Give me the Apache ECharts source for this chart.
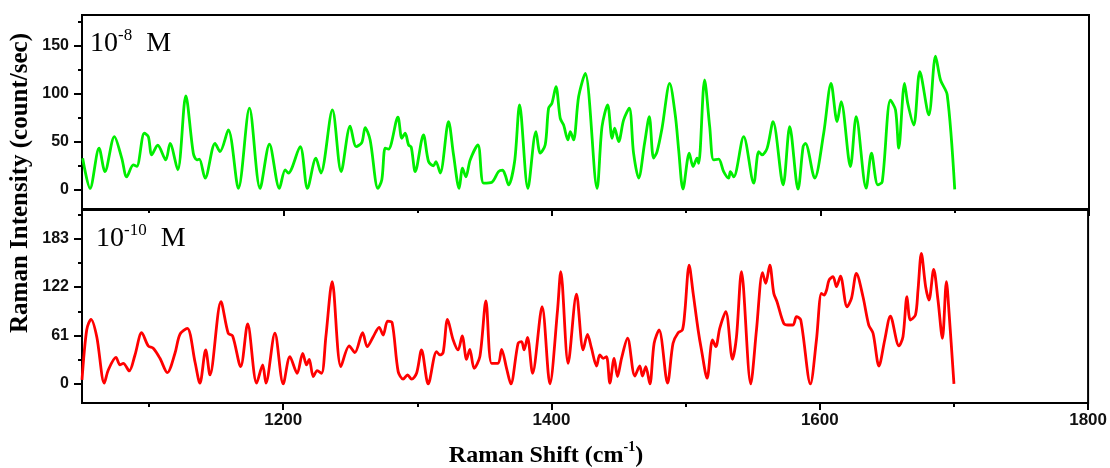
<!DOCTYPE html>
<html>
<head>
<meta charset="utf-8">
<script src="https://cdn.jsdelivr.net/npm/echarts@6/dist/echarts.min.js"></script>
<style>
html,body{margin:0;padding:0;background:#fff;}
#chart{width:1110px;height:468px;}
</style>
</head>
<body>
<div id="chart"></div>
<script>
// ---- data ----
const xMajorTicks = [1200, 1400, 1600, 1800];
const xMinorTicks = [1100, 1300, 1500, 1700];
const topMajorTicks = [0, 50, 100, 150];
const topMinorTicks = [25, 75, 125, 175];
const botMajorTicks = [0, 61, 122, 183];
const botMinorTicks = [30.5, 91.5, 152.5, 213.5];

const panelLabels = ['10', '-8', '  M', '10', '-10', '  M'];
const xAxisTitle = ['Raman Shift (cm', '-1', ')'];
const yAxisTitle = 'Raman Intensity (count/sec)';

const greenX = [1050.5,1056.0,1062.7,1067.1,1074.1,1079.6,1083.3,1088.2,1090.8,1096.4,
1099.4,1101.9,1106.4,1112.4,1115.6,1121.3,1127.3,1132.9,1135.5,1137.4,
1141.7,1149.1,1152.8,1159.0,1166.5,1174.7,1182.6,1189.6,1197.0,1201.3,
1203.7,1212.5,1217.9,1224.2,1227.9,1236.5,1243.0,1249.7,1254.2,1258.4,
1260.9,1264.6,1270.4,1273.3,1275.8,1278.3,1285.3,1288.2,1290.7,1293.2,
1295.2,1298.2,1304.3,1308.1,1311.8,1313.6,1316.8,1323.0,1326.7,1330.9,
1333.4,1335.9,1339.1,1344.9,1349.1,1355.3,1360.2,1363.2,1365.2,1367.7,
1372.2,1375.9,1382.1,1388.1,1391.3,1395.0,1397.5,1400.0,1403.0,1406.2,
1408.7,1411.9,1413.7,1416.1,1419.9,1424.8,1433.6,1437.3,1441.5,1444.8,
1446.7,1449.7,1453.4,1457.6,1460.8,1464.6,1469.0,1472.5,1475.7,1478.3,
1482.0,1487.7,1491.9,1494.4,1497.6,1502.3,1505.1,1508.1,1509.3,1513.7,
1517.5,1520.4,1524.2,1527.9,1531.6,1532.9,1535.4,1542.8,1550.3,1554.0,
1556.5,1560.3,1564.7,1572.2,1577.1,1583.3,1587.1,1588.8,1595.7,1602.4,
1607.9,1612.4,1615.4,1622.3,1626.6,1634.0,1638.0,1642.7,1646.0,1652.1,
1655.9,1658.3,1662.6,1665.0,1669.5,1674.0,1680.7,1685.7,1689.4,1694.4,
1700.0];
const greenY = [32.5,1,43,18.5,55,32.5,13,25.5,24,58.5,
55,36,46,30.7,48,20.3,97.4,37.7,30.7,31.5,
11.7,48,39.4,62,1,84.6,1,47,1,20.3,
17,44.6,1,32.5,17,82.8,18.5,66,44.6,48.8,
64.4,51.5,1,10,43,42,75.2,53.3,58.5,46.4,
44,18.5,56.8,29,24.5,29,17,70.6,36,1,
22,13,30.7,46.4,6.5,7.5,18.5,20,15,4.7,
29,88,1,60.2,37.7,46.4,84.6,89.8,107,74,
67,51.5,60.2,51.5,96.7,121,1,65.4,88,53.3,
63.7,49.8,72.4,84.6,37.7,11.7,48,75.8,32.5,39.4,
63.7,110.6,77,41,0.2,37.7,23.8,32.5,27,114,
65.4,30.7,31.5,18.5,11.7,18.5,13,55,6.5,39.4,
36,43,70.6,4.7,65.4,0.2,44.6,48,11.7,58.5,
110.6,70.6,91.5,23.8,75.8,1.2,37.7,4.7,8,93,
82.8,43,110.6,89.8,67,122.7,77.6,139,114,98.4,
0];

const redX = [1050,1053.5,1056.7,1061.0,1066.6,1069.6,1075.3,1078.3,1080.8,1085.2,
1089.5,1094.5,1099.4,1103.1,1108.1,1113.6,1119.3,1123.0,1128.5,1134.2,
1137.9,1142.2,1145.4,1153.6,1159.0,1162.3,1168.3,1173.5,1180.2,1184.7,
1187.1,1193.8,1200.0,1205.0,1210.4,1214.5,1217.4,1219.4,1222.4,1225.3,
1228.6,1231.8,1236.5,1243.0,1249.2,1253.4,1259.2,1262.6,1267.1,1271.5,
1274.5,1277.8,1281.2,1285.7,1289.4,1292.7,1295.7,1299.4,1303.1,1308.1,
1314.3,1316.8,1319.2,1322.5,1326.7,1330.4,1333.4,1336.7,1339.1,1342.3,
1346.6,1351.1,1355.3,1360.2,1362.8,1366.5,1369.7,1375.1,1377.7,1379.6,
1382.1,1385.9,1393.0,1398.8,1404.5,1406.9,1412.4,1418.6,1423.6,1426.8,
1429.8,1433.6,1436.0,1438.5,1441.0,1443.5,1446.7,1449.2,1452.2,1456.7,
1462.1,1465.8,1467.8,1470.3,1473.3,1476.5,1480.2,1486.5,1490.6,1494.4,
1497.6,1499.4,1502.6,1505.6,1509.3,1511.8,1516.0,1520.0,1522.5,1525.4,
1529.9,1534.9,1537.9,1541.6,1548.5,1552.8,1557.3,1559.7,1562.7,1565.7,
1568.1,1573.1,1576.3,1580.1,1582.6,1585.8,1593.0,1597.5,1601.2,1603.2,
1605.0,1606.9,1609.9,1612.4,1615.4,1620.3,1623.6,1627.3,1632.2,1636.5,
1639.7,1644.1,1648.4,1652.6,1659.0,1662.0,1665.0,1667.5,1671.3,1673.2,
1675.7,1678.9,1681.4,1684.9,1688.1,1691.4,1694.4,1696.3,1700.0];
const redY = [5,68,81.4,59.5,1,17.6,33.5,24,26,16.4,
36.5,64.5,47.8,45,32.3,14.2,38.6,62.5,70,28,
1,42.8,11.3,103.5,63.8,60.4,21.8,75.5,1,24,
1,63.8,0,34.4,13.4,38.6,24,31,9.2,16.8,
13.4,59.5,128.7,21.8,47.8,39.4,64.5,47,59.5,71.3,
61.6,79,77,15.5,6,11.3,6,13.4,42.8,0,
40.7,36.5,39.4,81.4,55.3,42.8,60.4,31,43.6,19.7,
34.4,104.4,26,26,43.6,19.7,0,51.2,53.2,42.8,
58.7,13.4,97.2,0,93,141.3,26,113.2,42.8,62.5,
45,22.6,36.5,32.3,34.4,1,32.3,9.2,32.3,57.5,
10,22.6,10,21.8,0,51.2,68,1,51.2,64.5,
68,91,149.7,114,68,42.8,7.2,55.3,47,70,
91,31,59.5,141.3,0,68,140,126.7,149.7,114,
103.5,76.3,74.2,74.2,84.7,80.5,0,55.3,114,112,
118,130.8,135,122.4,135.8,97.2,107.8,139.2,109.8,74.2,
63.8,22.6,55.3,85.5,47.8,59.5,109.8,80.5,86.8,118,
164.4,122.4,105.7,144.3,105.7,57.5,128.7,91,0];

// ---- chart ----
const zip = (xs, ys) => xs.map((x, i) => [x, ys[i]]);
const BLACK = '#000';
const SANS = '"Liberation Sans", Arial, sans-serif';
const SERIF = '"Liberation Serif", "Times New Roman", serif';
const plain = v => String(v);

function xAxisDef(grid, ticks, len, labels) {
  return {
    type: 'value', gridIndex: grid, position: 'bottom', offset: 0, min: 1050, max: 1800,
    axisLine: { show: true, onZero: false, lineStyle: { color: BLACK, width: 2 } },
    axisTick: { show: true, inside: false, customValues: ticks, length: len, lineStyle: { color: BLACK, width: 2 } },
    axisLabel: labels ? { show: true, customValues: ticks, formatter: plain, color: '#111', fontFamily: SANS, fontWeight: 'bold', fontSize: 17, margin: 9 } : { show: false },
    splitLine: { show: false }
  };
}
function yAxisDef(grid, min, max, ticks, len, labels) {
  return {
    type: 'value', gridIndex: grid, position: 'left', offset: 0, min: min, max: max,
    axisLine: { show: true, onZero: false, lineStyle: { color: BLACK, width: 2 } },
    axisTick: { show: true, inside: false, customValues: ticks, length: len, lineStyle: { color: BLACK, width: 2 } },
    axisLabel: labels ? { show: true, customValues: ticks, formatter: plain, color: '#111', fontFamily: SANS, fontWeight: 'bold', fontSize: 16, margin: 13 } : { show: false },
    splitLine: { show: false }
  };
}

const chart = echarts.init(document.getElementById('chart'), null, { renderer: 'canvas' });
chart.setOption({
  animation: false,
  backgroundColor: '#fff',
  grid: [
    { left: 82, top: 15, width: 1007, height: 194, show: true, borderColor: BLACK, borderWidth: 2 },
    { left: 82, top: 210, width: 1007, height: 193, show: true, borderColor: BLACK, borderWidth: 2 }
  ],
  xAxis: [
    xAxisDef(0, xMajorTicks, 7, false),
    xAxisDef(0, xMinorTicks, 4, false),
    xAxisDef(1, xMajorTicks, 7, true),
    xAxisDef(1, xMinorTicks, 4, false)
  ],
  yAxis: [
    yAxisDef(0, -20.5, 181.8, topMajorTicks, 8, true),
    yAxisDef(0, -20.5, 181.8, topMinorTicks, 4, false),
    yAxisDef(1, -24, 219, botMajorTicks, 8, true),
    yAxisDef(1, -24, 219, botMinorTicks, 4, false)
  ],
  series: [
    { type: 'line', xAxisIndex: 0, yAxisIndex: 0, data: zip(greenX, greenY), showSymbol: false, smooth: 0.3,
      lineStyle: { color: '#00ee00', width: 2.8 }, itemStyle: { color: '#00ee00' } },
    { type: 'line', xAxisIndex: 2, yAxisIndex: 2, data: zip(redX, redY), showSymbol: false, smooth: 0.3,
      lineStyle: { color: '#ff0000', width: 2.8 }, itemStyle: { color: '#ff0000' } }
  ],
  graphic: [
    { type: 'text', left: 90, top: 27, style: {
        text: '{a|' + panelLabels[0] + '}{b|' + panelLabels[1] + '}{a|' + panelLabels[2] + '}',
        rich: { a: { fontFamily: SERIF, fontSize: 28, fill: '#000', verticalAlign: 'bottom', lineHeight: 31 },
                b: { fontFamily: SERIF, fontSize: 17, fill: '#000', verticalAlign: 'top', lineHeight: 31 } } } },
    { type: 'text', left: 96, top: 222, style: {
        text: '{a|' + panelLabels[3] + '}{b|' + panelLabels[4] + '}{a|' + panelLabels[5] + '}',
        rich: { a: { fontFamily: SERIF, fontSize: 28, fill: '#000', verticalAlign: 'bottom', lineHeight: 31 },
                b: { fontFamily: SERIF, fontSize: 17, fill: '#000', verticalAlign: 'top', lineHeight: 31 } } } },
    { type: 'text', x: 546, y: 454, style: {
        text: '{a|' + xAxisTitle[0] + '}{b|' + xAxisTitle[1] + '}{a|' + xAxisTitle[2] + '}',
        align: 'center', verticalAlign: 'middle',
        rich: { a: { fontFamily: SERIF, fontWeight: 'bold', fontSize: 24, fill: '#000', verticalAlign: 'bottom', lineHeight: 28 },
                b: { fontFamily: SERIF, fontWeight: 'bold', fontSize: 14, fill: '#000', verticalAlign: 'top', lineHeight: 28 } } } },
    { type: 'text', x: 21, y: 183, rotation: Math.PI / 2, style: {
        text: yAxisTitle, align: 'center', verticalAlign: 'middle',
        fontFamily: SERIF, fontWeight: 'bold', fontSize: 25, fill: '#000' } }
  ]
});
</script>
</body>
</html>
